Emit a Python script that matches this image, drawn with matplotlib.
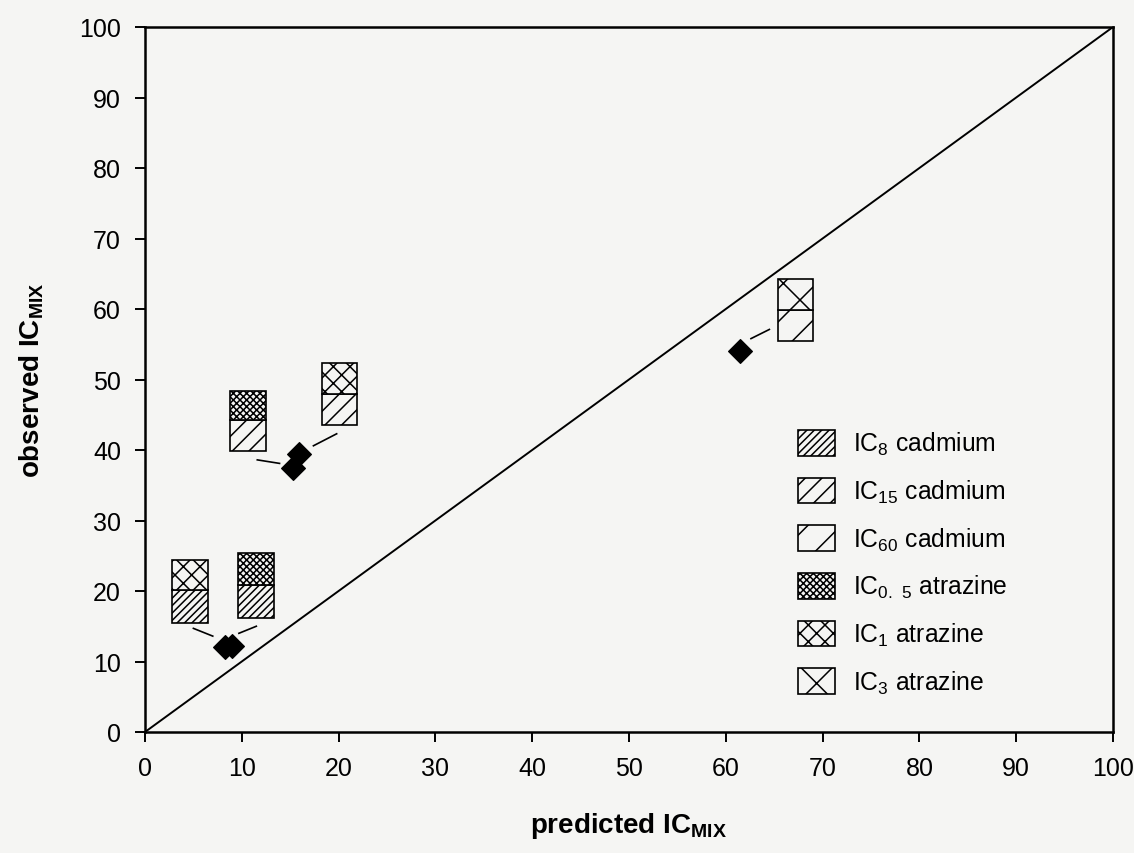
import matplotlib
matplotlib.use('Agg')
import matplotlib.pyplot as plt
from matplotlib.patches import Patch

plt.rcParams['font.family'] = ['Liberation Sans', 'DejaVu Sans']
plt.rcParams['mathtext.default'] = 'regular'
plt.rcParams['hatch.linewidth'] = 0.55

PAPER = '#f5f5f3'

# floating boxes: cadmium part (lower) and atrazine part (upper)
box_x = [4.65, 11.45, 10.6, 20.1, 67.2]
box_w = 3.7
cd_low = [15.5, 16.1, 39.8, 43.6, 55.5]
cd_high = [20.2, 20.9, 44.2, 47.9, 59.8]
at_high = [24.4, 25.4, 48.4, 52.4, 64.2]
cd_level = ['IC8', 'IC8', 'IC15', 'IC15', 'IC60']
at_level = ['IC1', 'IC0.5', 'IC0.5', 'IC1', 'IC3']

# measured mixtures
pred_x = [8.3, 9.0, 15.3, 15.9, 61.5]
obs_y = [12.0, 12.2, 37.5, 39.5, 54.0]

# short connectors between each point and its box
lead_x0 = [5.0, 9.7, 11.6, 17.4, 62.6]
lead_y0 = [14.7, 14.0, 38.6, 40.6, 55.8]
lead_x1 = [7.0, 11.5, 13.9, 19.8, 64.5]
lead_y1 = [13.6, 15.0, 38.1, 42.3, 57.1]

levels = ['IC8', 'IC15', 'IC60', 'IC0.5', 'IC1', 'IC3']
hatches = {'IC8': '/' * 9, 'IC15': '////', 'IC60': '//',
           'IC0.5': 'x' * 10, 'IC1': 'xxxx', 'IC3': 'xx'}
labels = {'IC8': r'IC$_{8}$ cadmium', 'IC15': r'IC$_{15}$ cadmium',
          'IC60': r'IC$_{60}$ cadmium', 'IC0.5': r'IC$_{0.\ 5}$ atrazine',
          'IC1': r'IC$_{1}$ atrazine', 'IC3': r'IC$_{3}$ atrazine'}

fig = plt.figure(figsize=(5.67, 4.27), dpi=200)
fig.patch.set_facecolor(PAPER)
ax = fig.add_axes([145 / 1134, 1 - 733 / 854, 968 / 1134, 705 / 854])
ax.set_facecolor(PAPER)

ax.plot([0, 100], [0, 100], color='black', lw=0.7, zorder=1)

for i in range(len(box_x)):
    ax.bar(box_x[i], cd_high[i] - cd_low[i], bottom=cd_low[i], width=box_w,
           facecolor=PAPER, edgecolor='black', linewidth=0.6,
           hatch=hatches[cd_level[i]], zorder=2)
    ax.bar(box_x[i], at_high[i] - cd_high[i], bottom=cd_high[i], width=box_w,
           facecolor=PAPER, edgecolor='black', linewidth=0.6,
           hatch=hatches[at_level[i]], zorder=2)
    ax.plot([lead_x0[i], lead_x1[i]], [lead_y0[i], lead_y1[i]],
            color='black', lw=0.6, zorder=2)

ax.plot(pred_x, obs_y, linestyle='none', marker='D', ms=6.3,
        color='black', mew=0.4, zorder=3)

ax.set_xlim(0, 100)
ax.set_ylim(0, 100)
ax.set_xticks(range(0, 101, 10))
ax.set_yticks(range(0, 101, 10))
ax.tick_params(direction='out', length=3.6, width=0.7, labelsize=9,
               pad=5, top=False, right=False)
for sp in ax.spines.values():
    sp.set_linewidth(0.9)

ax.set_xlabel(r'predicted IC$_{MIX}$', fontsize=10, fontweight='bold', labelpad=11)
ax.set_ylabel(r'observed IC$_{MIX}$', fontsize=10, fontweight='bold', labelpad=12)

handles = [Patch(facecolor=PAPER, edgecolor='black', linewidth=0.6,
                 hatch=hatches[k]) for k in levels]
ax.legend(handles, [labels[k] for k in levels], frameon=False, fontsize=8.9,
          loc='upper left', bbox_to_anchor=(798 / 1134, 1 - 431 / 854),
          bbox_transform=fig.transFigure, borderpad=0, borderaxespad=0,
          handlelength=1.5, handleheight=1.22, handletextpad=0.72,
          labelspacing=0.82)

fig.savefig('out.png', dpi=200, facecolor=fig.get_facecolor())
